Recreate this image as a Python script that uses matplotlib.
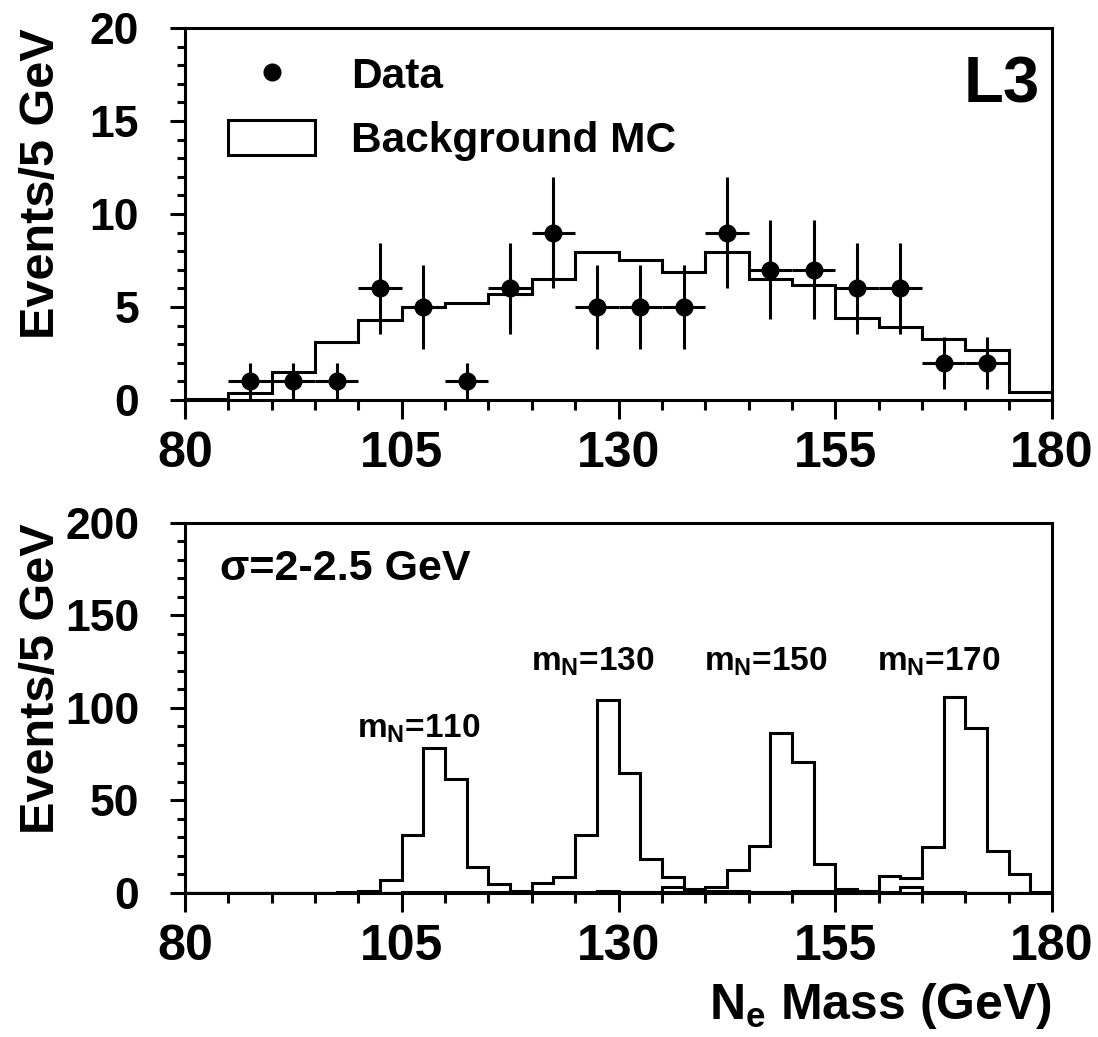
import matplotlib
matplotlib.use("Agg")
from matplotlib import pyplot as plt
from matplotlib.lines import Line2D
from matplotlib.patches import Patch
from matplotlib.ticker import MultipleLocator
import numpy as np

plt.rcParams['font.family'] = ['Liberation Sans', 'DejaVu Sans']
plt.rcParams['font.weight'] = 'bold'
plt.rcParams['mathtext.fontset'] = 'custom'
plt.rcParams['mathtext.rm'] = 'Liberation Sans:bold'
plt.rcParams['mathtext.it'] = 'Liberation Sans:bold'
plt.rcParams['mathtext.bf'] = 'Liberation Sans:bold'

# top panel: data vs background MC, 5 GeV bins
mc_edges = np.arange(80, 181, 5)
mc_values = [0.05, 0.4, 1.5, 3.1, 4.3, 5.0, 5.2, 5.7, 6.5, 7.95,
             7.5, 6.9, 7.95, 6.5, 6.2, 4.4, 3.9, 3.3, 2.7, 0.45]

data_x = [87.5, 92.5, 97.5, 102.5, 107.5, 112.5, 117.5, 122.5, 127.5,
          132.5, 137.5, 142.5, 147.5, 152.5, 157.5, 162.5, 167.5, 172.5]
data_y = [1, 1, 1, 6, 5, 1, 6, 9, 5, 5, 5, 9, 7, 7, 6, 6, 2, 2]
data_err = [1, 1, 1, 2.45, 2.24, 1, 2.45, 3, 2.24, 2.24, 2.24, 3,
            2.65, 2.65, 2.45, 2.45, 1.41, 1.41]

# bottom panel: signal MC for several masses, 2.5 GeV bins
sig_edges = np.arange(80, 180.1, 2.5)
sig_110 = [0, 0, 0, 0, 0, 0, 0, 0.7, 1.3, 7.0,
           31.2, 78.6, 61.8, 14.3, 5.0, 1.3, 0.7, 0.7, 0.7, 1.2,
           0.5, 0.5, 0.5, 0.5, 0, 0, 0, 0, 0, 0,
           0, 0, 0, 0, 0, 0, 0, 0, 0, 0]
sig_130 = [0, 0, 0, 0, 0, 0, 0, 0, 0, 0,
           0.7, 0.7, 0.7, 0.7, 0.7, 0.7, 5.3, 8.5, 31.5, 104.3,
           65.0, 18.3, 8.5, 1.1, 1.0, 1.0, 0.5, 0.5, 0.5, 0.5,
           0, 0, 0, 0, 0, 0, 0, 0, 0, 0]
sig_150 = [0, 0, 0, 0, 0, 0, 0, 0, 0, 0,
           0, 0, 0, 0, 0, 0, 0, 0, 0, 0.5,
           0.5, 0.5, 3.4, 2.0, 3.4, 12.5, 25.5, 86.2, 71.0, 15.6,
           2.3, 1.3, 0.7, 3.4, 0.5, 0.5, 0, 0, 0, 0]
sig_170 = [0, 0, 0, 0, 0, 0, 0, 0, 0, 0,
           0, 0, 0, 0, 0, 0, 0, 0, 0, 0,
           0, 0, 0, 0, 0, 0, 0.7, 0.7, 1.1, 1.1,
           1.3, 1.3, 9.4, 8.0, 24.8, 106.0, 89.0, 22.5, 10.3, 0.3]
sig_labels = ["m$_{N}$=110", "m$_{N}$=130", "m$_{N}$=150", "m$_{N}$=170"]
sig_label_x = [107.0, 127.0, 147.0, 167.0]
sig_label_y = [89.0, 125.0, 125.0, 125.0]

x_ticks = [80, 105, 130, 155, 180]

fig = plt.figure(figsize=(10.98, 10.37), dpi=100)
ax1 = fig.add_axes([0.1685, 0.6143, 0.7896, 0.3587])
ax2 = fig.add_axes([0.1685, 0.1389, 0.7896, 0.3568])

lw = 2.2


def style_axis(ax, ymax, ymajor, yminor):
    ax.set_xlim(80, 180)
    ax.set_ylim(0, ymax)
    ax.set_xticks(x_ticks)
    ax.xaxis.set_minor_locator(MultipleLocator(5))
    ax.yaxis.set_major_locator(MultipleLocator(ymajor))
    ax.yaxis.set_minor_locator(MultipleLocator(yminor))
    for s in ax.spines.values():
        s.set_linewidth(lw)
    ax.tick_params(axis='x', which='major', direction='out', length=14,
                   width=lw, labelsize=36, pad=8, top=False)
    ax.tick_params(axis='x', which='minor', direction='out', length=7,
                   width=lw, top=False)
    ax.tick_params(axis='y', which='major', direction='out', length=11,
                   width=lw, labelsize=32, pad=22, right=False)
    ax.tick_params(axis='y', which='minor', direction='out', length=6,
                   width=lw, right=False)
    ax.set_ylabel("Events/5 GeV", fontsize=35, fontweight='bold', loc='top')
    ax.yaxis.set_label_coords(-0.140, 1.0)


style_axis(ax1, 20, 5, 1)
ax1.stairs(mc_values, mc_edges, color='black', linewidth=lw)
ax1.errorbar(data_x, data_y, yerr=data_err, xerr=2.5, fmt='o', color='black',
             ms=12, elinewidth=lw, capsize=0)

handles = [Line2D([], [], marker='o', color='black', linestyle='none', ms=12),
           Patch(facecolor='white', edgecolor='black', linewidth=lw)]
ax1.legend(handles, ["Data", "Background MC"], loc='upper left',
           bbox_to_anchor=(0.05, 0.925), frameon=False, fontsize=30.5,
           handlelength=2.05, handleheight=0.88, handletextpad=0.85,
           labelspacing=0.55, borderpad=0, borderaxespad=0)
ax1.text(0.986, 0.845, "L3", transform=ax1.transAxes, fontsize=47,
         fontweight='bold', ha='right', va='center')

style_axis(ax2, 200, 50, 10)
for vals in (sig_110, sig_130, sig_150, sig_170):
    ax2.stairs(vals, sig_edges, color='black', linewidth=lw)
for lab, lx, ly in zip(sig_labels, sig_label_x, sig_label_y):
    ax2.text(lx, ly, lab, fontsize=24, fontweight='bold', ha='center',
             va='center')
ax2.text(84.0, 175, "σ=2-2.5 GeV", fontsize=31, fontweight='bold',
         ha='left', va='center')
ax2.set_xlabel("N$_{e}$ Mass (GeV)", fontsize=36, fontweight='bold',
               loc='right', labelpad=8)

fig.savefig("out.png", dpi=100)
